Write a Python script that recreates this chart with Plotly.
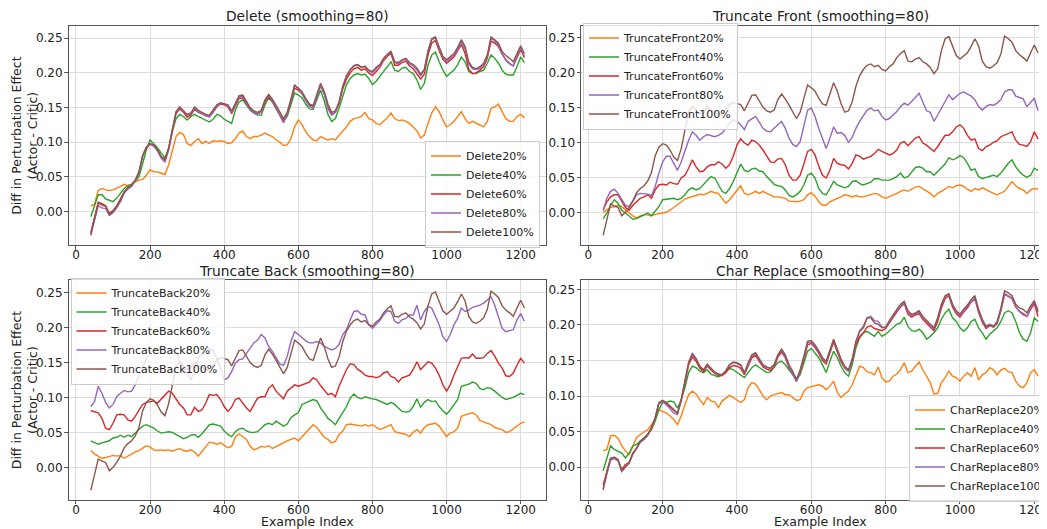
import plotly.graph_objects as go

W, H = 1047, 529
PAGE_OFFSET = 8  # the page body margin that surrounds the figure

# Example index (x positions of the smoothed curves)
EXAMPLE_INDEX = list(range(40, 1211, 10))

PERCENTS = ["20%", "40%", "60%", "80%", "100%"]
COLORS = ["#ff7f0e", "#2ca02c", "#d62728", "#9467bd", "#8c564b"]

# ---- Delete ----
DELETE_20 = [0.008, 0.010, 0.030, 0.033, 0.031, 0.030, 0.031, 0.033, 0.036, 0.039,
             0.037, 0.039, 0.043, 0.045, 0.046, 0.052, 0.060, 0.057, 0.057, 0.055,
             0.053, 0.067, 0.089, 0.108, 0.114, 0.111, 0.098, 0.095, 0.101, 0.105,
             0.098, 0.101, 0.098, 0.102, 0.101, 0.102, 0.101, 0.098, 0.099, 0.105,
             0.113, 0.116, 0.108, 0.105, 0.108, 0.108, 0.110, 0.113, 0.110, 0.108,
             0.103, 0.100, 0.095, 0.096, 0.105, 0.122, 0.132, 0.125, 0.115, 0.108,
             0.103, 0.102, 0.108, 0.105, 0.103, 0.105, 0.103, 0.110, 0.116, 0.122,
             0.130, 0.134, 0.135, 0.137, 0.143, 0.134, 0.132, 0.127, 0.125, 0.130,
             0.135, 0.142, 0.134, 0.131, 0.132, 0.130, 0.127, 0.122, 0.116, 0.106,
             0.110, 0.127, 0.142, 0.151, 0.144, 0.132, 0.122, 0.125, 0.130, 0.137,
             0.144, 0.134, 0.127, 0.130, 0.127, 0.125, 0.122, 0.130, 0.149, 0.151,
             0.155, 0.144, 0.134, 0.130, 0.130, 0.137, 0.140, 0.135]
DELETE_40 = [-0.008, 0.009, 0.024, 0.024, 0.018, 0.016, 0.014, 0.019, 0.026, 0.033,
             0.037, 0.039, 0.043, 0.050, 0.069, 0.089, 0.103, 0.098, 0.092, 0.084,
             0.077, 0.091, 0.115, 0.134, 0.140, 0.137, 0.132, 0.137, 0.140, 0.137,
             0.134, 0.132, 0.129, 0.133, 0.140, 0.138, 0.133, 0.130, 0.127, 0.146,
             0.158, 0.161, 0.154, 0.146, 0.142, 0.139, 0.139, 0.154, 0.164, 0.158,
             0.148, 0.139, 0.131, 0.137, 0.154, 0.171, 0.168, 0.164, 0.155, 0.148,
             0.147, 0.160, 0.175, 0.159, 0.140, 0.130, 0.134, 0.149, 0.168, 0.183,
             0.192, 0.197, 0.199, 0.197, 0.198, 0.192, 0.183, 0.188, 0.195, 0.202,
             0.209, 0.216, 0.204, 0.202, 0.207, 0.208, 0.202, 0.199, 0.190, 0.176,
             0.185, 0.211, 0.226, 0.230, 0.216, 0.204, 0.195, 0.199, 0.204, 0.212,
             0.223, 0.216, 0.202, 0.199, 0.199, 0.202, 0.204, 0.214, 0.226, 0.221,
             0.214, 0.204, 0.198, 0.197, 0.197, 0.209, 0.223, 0.215]
DELETE_60 = [-0.031, -0.009, 0.013, 0.011, 0.008, -0.003, 0.001, 0.008, 0.017, 0.028,
             0.034, 0.038, 0.045, 0.057, 0.080, 0.092, 0.097, 0.095, 0.088, 0.078,
             0.075, 0.090, 0.118, 0.141, 0.148, 0.143, 0.136, 0.139, 0.148, 0.143,
             0.141, 0.138, 0.137, 0.143, 0.151, 0.155, 0.154, 0.151, 0.141, 0.153,
             0.163, 0.164, 0.155, 0.148, 0.143, 0.141, 0.144, 0.158, 0.166, 0.159,
             0.149, 0.139, 0.129, 0.140, 0.158, 0.178, 0.175, 0.170, 0.161, 0.154,
             0.151, 0.167, 0.181, 0.170, 0.151, 0.140, 0.143, 0.156, 0.177, 0.191,
             0.200, 0.206, 0.208, 0.204, 0.206, 0.200, 0.196, 0.202, 0.208, 0.218,
             0.224, 0.228, 0.211, 0.211, 0.215, 0.217, 0.210, 0.206, 0.199, 0.191,
             0.198, 0.226, 0.243, 0.247, 0.232, 0.220, 0.214, 0.219, 0.223, 0.232,
             0.241, 0.228, 0.205, 0.199, 0.200, 0.204, 0.209, 0.221, 0.246, 0.243,
             0.238, 0.227, 0.219, 0.214, 0.210, 0.222, 0.234, 0.222]
DELETE_80 = [-0.035, -0.012, 0.008, 0.005, 0.004, -0.006, -0.002, 0.005, 0.014, 0.026,
             0.032, 0.036, 0.044, 0.056, 0.080, 0.092, 0.097, 0.094, 0.087, 0.077,
             0.071, 0.088, 0.118, 0.143, 0.150, 0.145, 0.139, 0.141, 0.149, 0.144,
             0.141, 0.138, 0.136, 0.144, 0.152, 0.156, 0.155, 0.152, 0.142, 0.154,
             0.165, 0.167, 0.156, 0.148, 0.142, 0.140, 0.144, 0.160, 0.168, 0.160,
             0.150, 0.138, 0.128, 0.141, 0.160, 0.183, 0.177, 0.170, 0.160, 0.152,
             0.149, 0.165, 0.182, 0.169, 0.148, 0.139, 0.143, 0.158, 0.181, 0.196,
             0.205, 0.211, 0.212, 0.208, 0.209, 0.203, 0.200, 0.206, 0.211, 0.220,
             0.226, 0.230, 0.215, 0.213, 0.218, 0.220, 0.213, 0.210, 0.204, 0.196,
             0.204, 0.232, 0.250, 0.252, 0.235, 0.222, 0.216, 0.221, 0.226, 0.234,
             0.244, 0.234, 0.213, 0.206, 0.205, 0.207, 0.212, 0.224, 0.250, 0.246,
             0.240, 0.228, 0.218, 0.213, 0.210, 0.224, 0.236, 0.224]
# 100% (everything removed) - identical for Delete / Truncate Front / Truncate Back
FULL_100 = [-0.033, -0.010, 0.012, 0.009, 0.007, -0.005, 0.000, 0.007, 0.016, 0.028,
            0.034, 0.038, 0.045, 0.057, 0.081, 0.093, 0.098, 0.096, 0.089, 0.079,
            0.074, 0.091, 0.120, 0.144, 0.151, 0.146, 0.140, 0.142, 0.151, 0.146,
            0.143, 0.140, 0.139, 0.146, 0.154, 0.157, 0.156, 0.154, 0.145, 0.156,
            0.167, 0.168, 0.158, 0.150, 0.145, 0.143, 0.146, 0.161, 0.169, 0.162,
            0.153, 0.143, 0.134, 0.143, 0.161, 0.182, 0.178, 0.173, 0.163, 0.155,
            0.153, 0.170, 0.185, 0.173, 0.155, 0.143, 0.145, 0.158, 0.180, 0.195,
            0.204, 0.210, 0.212, 0.208, 0.210, 0.204, 0.202, 0.208, 0.212, 0.221,
            0.227, 0.231, 0.216, 0.215, 0.219, 0.221, 0.215, 0.212, 0.207, 0.198,
            0.205, 0.231, 0.248, 0.251, 0.236, 0.224, 0.219, 0.224, 0.228, 0.237,
            0.248, 0.238, 0.216, 0.208, 0.206, 0.209, 0.214, 0.226, 0.252, 0.248,
            0.243, 0.231, 0.225, 0.221, 0.216, 0.228, 0.239, 0.228]

# ---- Truncate Front ----
TRUNC_FRONT_20 = [0.000, 0.003, 0.007, 0.008, 0.010, 0.008, 0.003, -0.001, -0.005, -0.008,
                  -0.005, -0.003, -0.004, -0.005, -0.003, -0.002, -0.002, 0.000, 0.003, 0.007,
                  0.010, 0.015, 0.019, 0.021, 0.022, 0.024, 0.026, 0.025, 0.027, 0.030,
                  0.028, 0.027, 0.020, 0.013, 0.018, 0.025, 0.032, 0.038, 0.027, 0.025,
                  0.027, 0.030, 0.027, 0.030, 0.027, 0.024, 0.022, 0.022, 0.021, 0.020,
                  0.016, 0.015, 0.015, 0.016, 0.018, 0.025, 0.028, 0.023, 0.015, 0.010,
                  0.010, 0.015, 0.018, 0.020, 0.022, 0.025, 0.024, 0.022, 0.024, 0.022,
                  0.022, 0.024, 0.026, 0.027, 0.026, 0.022, 0.020, 0.022, 0.025, 0.027,
                  0.030, 0.032, 0.030, 0.033, 0.036, 0.037, 0.034, 0.030, 0.027, 0.022,
                  0.027, 0.030, 0.033, 0.037, 0.035, 0.038, 0.039, 0.037, 0.033, 0.030,
                  0.034, 0.032, 0.035, 0.032, 0.030, 0.027, 0.025, 0.027, 0.030, 0.037,
                  0.044, 0.038, 0.034, 0.032, 0.027, 0.032, 0.034, 0.033]
TRUNC_FRONT_40 = [-0.009, -0.001, 0.010, 0.018, 0.013, 0.003, -0.001, -0.006, -0.010, -0.009,
                  -0.006, -0.003, -0.001, -0.005, 0.001, 0.008, 0.018, 0.019, 0.019, 0.020,
                  0.018, 0.020, 0.025, 0.032, 0.035, 0.032, 0.034, 0.040, 0.046, 0.051,
                  0.049, 0.039, 0.030, 0.027, 0.034, 0.044, 0.058, 0.069, 0.060, 0.058,
                  0.062, 0.063, 0.059, 0.058, 0.051, 0.045, 0.040, 0.038, 0.037, 0.032,
                  0.024, 0.022, 0.025, 0.030, 0.039, 0.053, 0.056, 0.049, 0.034, 0.027,
                  0.025, 0.034, 0.044, 0.039, 0.037, 0.035, 0.037, 0.044, 0.045, 0.041,
                  0.039, 0.041, 0.043, 0.048, 0.048, 0.046, 0.046, 0.046, 0.048, 0.051,
                  0.056, 0.049, 0.051, 0.058, 0.064, 0.065, 0.063, 0.058, 0.058, 0.053,
                  0.058, 0.063, 0.069, 0.078, 0.075, 0.077, 0.081, 0.078, 0.070, 0.060,
                  0.062, 0.051, 0.048, 0.050, 0.051, 0.053, 0.051, 0.056, 0.063, 0.070,
                  0.075, 0.065, 0.058, 0.053, 0.050, 0.053, 0.063, 0.060]
TRUNC_FRONT_60 = [0.003, 0.015, 0.022, 0.025, 0.025, 0.015, 0.007, 0.003, 0.010, 0.015,
                  0.020, 0.022, 0.025, 0.020, 0.032, 0.039, 0.040, 0.039, 0.043, 0.041,
                  0.040, 0.049, 0.053, 0.063, 0.075, 0.065, 0.058, 0.059, 0.065, 0.068,
                  0.068, 0.072, 0.069, 0.063, 0.068, 0.080, 0.096, 0.105, 0.099, 0.096,
                  0.103, 0.101, 0.096, 0.089, 0.080, 0.072, 0.071, 0.076, 0.077, 0.068,
                  0.053, 0.046, 0.046, 0.053, 0.069, 0.087, 0.090, 0.082, 0.066, 0.053,
                  0.049, 0.060, 0.077, 0.070, 0.068, 0.067, 0.062, 0.070, 0.082, 0.080,
                  0.076, 0.078, 0.080, 0.084, 0.090, 0.087, 0.084, 0.082, 0.084, 0.089,
                  0.099, 0.101, 0.095, 0.101, 0.106, 0.108, 0.099, 0.096, 0.092, 0.087,
                  0.094, 0.103, 0.110, 0.110, 0.115, 0.122, 0.125, 0.120, 0.110, 0.103,
                  0.105, 0.091, 0.088, 0.094, 0.096, 0.100, 0.102, 0.108, 0.110, 0.113,
                  0.115, 0.103, 0.097, 0.096, 0.094, 0.101, 0.115, 0.105]
TRUNC_FRONT_80 = [0.003, 0.020, 0.030, 0.033, 0.027, 0.019, 0.010, 0.008, 0.016, 0.025,
                  0.027, 0.027, 0.026, 0.024, 0.037, 0.056, 0.072, 0.080, 0.080, 0.070,
                  0.060, 0.072, 0.089, 0.103, 0.115, 0.110, 0.103, 0.108, 0.111, 0.110,
                  0.108, 0.110, 0.113, 0.120, 0.127, 0.132, 0.130, 0.125, 0.118, 0.130,
                  0.134, 0.137, 0.129, 0.120, 0.116, 0.115, 0.120, 0.125, 0.130, 0.120,
                  0.106, 0.097, 0.094, 0.101, 0.125, 0.146, 0.149, 0.137, 0.120, 0.106,
                  0.091, 0.106, 0.122, 0.113, 0.114, 0.110, 0.100, 0.107, 0.120, 0.130,
                  0.139, 0.146, 0.149, 0.145, 0.146, 0.137, 0.132, 0.134, 0.139, 0.144,
                  0.151, 0.156, 0.153, 0.158, 0.164, 0.170, 0.156, 0.145, 0.143, 0.130,
                  0.139, 0.149, 0.158, 0.168, 0.161, 0.166, 0.170, 0.172, 0.169, 0.166,
                  0.161, 0.151, 0.146, 0.151, 0.154, 0.153, 0.156, 0.161, 0.172, 0.175,
                  0.175, 0.166, 0.164, 0.162, 0.151, 0.157, 0.163, 0.145]

# ---- Truncate Back ----
TRUNC_BACK_20 = [0.024, 0.019, 0.016, 0.013, 0.014, 0.016, 0.017, 0.016, 0.017, 0.013,
                 0.016, 0.020, 0.022, 0.024, 0.028, 0.031, 0.029, 0.025, 0.024, 0.025,
                 0.024, 0.025, 0.023, 0.025, 0.027, 0.024, 0.023, 0.025, 0.022, 0.016,
                 0.023, 0.030, 0.036, 0.035, 0.033, 0.035, 0.032, 0.028, 0.030, 0.043,
                 0.048, 0.044, 0.040, 0.030, 0.025, 0.027, 0.030, 0.029, 0.031, 0.027,
                 0.030, 0.032, 0.035, 0.038, 0.040, 0.042, 0.038, 0.044, 0.050, 0.056,
                 0.061, 0.057, 0.050, 0.043, 0.040, 0.035, 0.037, 0.047, 0.052, 0.061,
                 0.062, 0.061, 0.060, 0.059, 0.061, 0.059, 0.061, 0.057, 0.054, 0.056,
                 0.059, 0.061, 0.051, 0.050, 0.049, 0.047, 0.044, 0.050, 0.054, 0.049,
                 0.057, 0.061, 0.062, 0.063, 0.059, 0.051, 0.044, 0.049, 0.051, 0.056,
                 0.073, 0.075, 0.076, 0.078, 0.075, 0.067, 0.065, 0.063, 0.061, 0.057,
                 0.056, 0.054, 0.050, 0.051, 0.055, 0.059, 0.063, 0.065]
TRUNC_BACK_40 = [0.038, 0.036, 0.033, 0.035, 0.037, 0.038, 0.042, 0.043, 0.046, 0.043,
                 0.046, 0.044, 0.049, 0.054, 0.059, 0.061, 0.059, 0.056, 0.052, 0.049,
                 0.050, 0.051, 0.050, 0.047, 0.043, 0.041, 0.043, 0.046, 0.047, 0.043,
                 0.048, 0.054, 0.061, 0.062, 0.061, 0.059, 0.052, 0.047, 0.044, 0.051,
                 0.055, 0.056, 0.052, 0.050, 0.050, 0.051, 0.056, 0.061, 0.063, 0.061,
                 0.066, 0.063, 0.059, 0.062, 0.071, 0.075, 0.078, 0.090, 0.092, 0.094,
                 0.097, 0.095, 0.085, 0.078, 0.070, 0.066, 0.061, 0.070, 0.078, 0.087,
                 0.099, 0.105, 0.100, 0.098, 0.101, 0.099, 0.098, 0.097, 0.095, 0.093,
                 0.090, 0.093, 0.090, 0.085, 0.080, 0.079, 0.080, 0.087, 0.098, 0.086,
                 0.093, 0.097, 0.094, 0.095, 0.087, 0.081, 0.076, 0.082, 0.090, 0.097,
                 0.116, 0.117, 0.119, 0.122, 0.120, 0.113, 0.111, 0.114, 0.113, 0.109,
                 0.104, 0.100, 0.097, 0.098, 0.100, 0.103, 0.106, 0.104]
TRUNC_BACK_60 = [0.081, 0.080, 0.078, 0.070, 0.056, 0.054, 0.063, 0.075, 0.076, 0.075,
                 0.068, 0.066, 0.073, 0.082, 0.090, 0.093, 0.094, 0.095, 0.092, 0.098,
                 0.104, 0.109, 0.106, 0.098, 0.090, 0.085, 0.075, 0.075, 0.086, 0.080,
                 0.082, 0.092, 0.104, 0.103, 0.104, 0.097, 0.087, 0.080, 0.086, 0.097,
                 0.099, 0.092, 0.085, 0.080, 0.090, 0.099, 0.101, 0.101, 0.113, 0.118,
                 0.109, 0.104, 0.098, 0.109, 0.114, 0.118, 0.116, 0.118, 0.119, 0.122,
                 0.128, 0.125, 0.117, 0.111, 0.104, 0.106, 0.101, 0.116, 0.128, 0.140,
                 0.148, 0.147, 0.140, 0.137, 0.132, 0.130, 0.130, 0.128, 0.130, 0.135,
                 0.137, 0.130, 0.128, 0.122, 0.128, 0.130, 0.132, 0.140, 0.151, 0.140,
                 0.146, 0.151, 0.149, 0.142, 0.132, 0.118, 0.109, 0.118, 0.132, 0.144,
                 0.156, 0.157, 0.156, 0.162, 0.156, 0.156, 0.157, 0.163, 0.167, 0.159,
                 0.149, 0.142, 0.131, 0.130, 0.135, 0.146, 0.156, 0.149]
TRUNC_BACK_80 = [0.087, 0.094, 0.116, 0.106, 0.093, 0.085, 0.090, 0.101, 0.106, 0.110,
                 0.108, 0.109, 0.118, 0.130, 0.142, 0.156, 0.163, 0.168, 0.168, 0.170,
                 0.168, 0.170, 0.168, 0.166, 0.151, 0.142, 0.132, 0.125, 0.140, 0.156,
                 0.163, 0.170, 0.170, 0.167, 0.156, 0.142, 0.125, 0.128, 0.137, 0.149,
                 0.154, 0.155, 0.163, 0.170, 0.178, 0.182, 0.190, 0.185, 0.173, 0.166,
                 0.156, 0.148, 0.146, 0.159, 0.180, 0.194, 0.190, 0.185, 0.181, 0.178,
                 0.178, 0.180, 0.178, 0.173, 0.170, 0.168, 0.170, 0.176, 0.190, 0.197,
                 0.211, 0.223, 0.224, 0.219, 0.218, 0.204, 0.199, 0.204, 0.210, 0.218,
                 0.224, 0.223, 0.209, 0.206, 0.211, 0.213, 0.218, 0.218, 0.232, 0.211,
                 0.223, 0.230, 0.228, 0.216, 0.204, 0.187, 0.180, 0.190, 0.204, 0.213,
                 0.228, 0.223, 0.225, 0.229, 0.230, 0.232, 0.235, 0.240, 0.244, 0.232,
                 0.216, 0.199, 0.194, 0.195, 0.197, 0.211, 0.220, 0.209]

# ---- Char Replace ----
CHAR_REPLACE_20 = [0.023, 0.025, 0.044, 0.045, 0.041, 0.030, 0.023, 0.018, 0.030, 0.042,
                   0.046, 0.050, 0.053, 0.060, 0.067, 0.081, 0.079, 0.076, 0.072, 0.067,
                   0.060, 0.072, 0.088, 0.102, 0.107, 0.103, 0.095, 0.088, 0.098, 0.093,
                   0.092, 0.084, 0.093, 0.097, 0.101, 0.098, 0.095, 0.091, 0.095, 0.112,
                   0.119, 0.117, 0.109, 0.100, 0.095, 0.100, 0.102, 0.103, 0.105, 0.102,
                   0.102, 0.098, 0.094, 0.095, 0.107, 0.112, 0.113, 0.114, 0.116, 0.114,
                   0.109, 0.114, 0.121, 0.105, 0.098, 0.103, 0.107, 0.116, 0.130, 0.142,
                   0.140, 0.134, 0.133, 0.130, 0.141, 0.126, 0.120, 0.121, 0.128, 0.131,
                   0.137, 0.147, 0.133, 0.135, 0.142, 0.148, 0.137, 0.128, 0.119, 0.103,
                   0.104, 0.119, 0.126, 0.135, 0.128, 0.126, 0.121, 0.128, 0.133, 0.128,
                   0.140, 0.123, 0.130, 0.133, 0.140, 0.137, 0.130, 0.137, 0.139, 0.134,
                   0.133, 0.121, 0.114, 0.112, 0.119, 0.133, 0.137, 0.128]
CHAR_REPLACE_40 = [-0.005, 0.013, 0.030, 0.025, 0.023, 0.020, 0.013, 0.020, 0.030, 0.032,
                   0.037, 0.041, 0.046, 0.053, 0.065, 0.081, 0.091, 0.091, 0.093, 0.092,
                   0.083, 0.095, 0.112, 0.133, 0.142, 0.140, 0.135, 0.133, 0.137, 0.131,
                   0.129, 0.127, 0.130, 0.135, 0.139, 0.137, 0.133, 0.130, 0.126, 0.133,
                   0.140, 0.144, 0.140, 0.136, 0.133, 0.134, 0.140, 0.147, 0.149, 0.144,
                   0.137, 0.130, 0.123, 0.130, 0.147, 0.163, 0.167, 0.161, 0.154, 0.144,
                   0.133, 0.149, 0.163, 0.154, 0.142, 0.133, 0.128, 0.144, 0.168, 0.182,
                   0.189, 0.191, 0.187, 0.184, 0.191, 0.184, 0.187, 0.192, 0.196, 0.201,
                   0.203, 0.211, 0.198, 0.192, 0.191, 0.194, 0.189, 0.180, 0.184, 0.189,
                   0.196, 0.208, 0.217, 0.222, 0.210, 0.205, 0.196, 0.191, 0.196, 0.205,
                   0.208, 0.196, 0.189, 0.180, 0.187, 0.191, 0.196, 0.205, 0.217, 0.220,
                   0.217, 0.205, 0.189, 0.180, 0.177, 0.189, 0.210, 0.205]
CHAR_REPLACE_60 = [-0.025, -0.005, 0.012, 0.014, 0.010, -0.003, 0.004, 0.007, 0.020, 0.027,
                   0.036, 0.040, 0.046, 0.056, 0.070, 0.090, 0.092, 0.089, 0.085, 0.080,
                   0.076, 0.094, 0.120, 0.144, 0.155, 0.149, 0.139, 0.134, 0.142, 0.137,
                   0.132, 0.129, 0.129, 0.133, 0.140, 0.143, 0.142, 0.139, 0.130, 0.142,
                   0.154, 0.157, 0.149, 0.141, 0.138, 0.136, 0.141, 0.155, 0.162, 0.154,
                   0.140, 0.132, 0.122, 0.134, 0.152, 0.172, 0.174, 0.168, 0.160, 0.150,
                   0.145, 0.162, 0.176, 0.162, 0.148, 0.139, 0.135, 0.150, 0.172, 0.184,
                   0.189, 0.197, 0.199, 0.195, 0.193, 0.192, 0.195, 0.203, 0.211, 0.218,
                   0.225, 0.230, 0.215, 0.211, 0.214, 0.216, 0.208, 0.202, 0.197, 0.192,
                   0.205, 0.224, 0.237, 0.241, 0.225, 0.216, 0.211, 0.218, 0.224, 0.232,
                   0.237, 0.218, 0.204, 0.195, 0.199, 0.197, 0.202, 0.220, 0.243, 0.240,
                   0.237, 0.225, 0.219, 0.216, 0.212, 0.222, 0.230, 0.212]
CHAR_REPLACE_80 = [-0.030, -0.008, 0.010, 0.012, 0.009, -0.006, 0.000, 0.006, 0.018, 0.026,
                   0.035, 0.039, 0.045, 0.055, 0.069, 0.090, 0.092, 0.088, 0.082, 0.076,
                   0.074, 0.094, 0.121, 0.148, 0.160, 0.153, 0.142, 0.136, 0.143, 0.139,
                   0.133, 0.130, 0.130, 0.136, 0.144, 0.147, 0.146, 0.143, 0.132, 0.145,
                   0.156, 0.160, 0.151, 0.143, 0.140, 0.139, 0.144, 0.157, 0.164, 0.156,
                   0.142, 0.132, 0.120, 0.135, 0.155, 0.175, 0.176, 0.170, 0.162, 0.152,
                   0.148, 0.163, 0.179, 0.165, 0.150, 0.140, 0.135, 0.151, 0.176, 0.192,
                   0.198, 0.210, 0.212, 0.206, 0.205, 0.197, 0.196, 0.204, 0.213, 0.220,
                   0.226, 0.231, 0.218, 0.213, 0.216, 0.218, 0.211, 0.205, 0.199, 0.194,
                   0.209, 0.228, 0.240, 0.243, 0.228, 0.218, 0.213, 0.220, 0.226, 0.233,
                   0.238, 0.220, 0.206, 0.197, 0.200, 0.197, 0.203, 0.221, 0.244, 0.241,
                   0.238, 0.226, 0.219, 0.214, 0.212, 0.224, 0.232, 0.218]
CHAR_REPLACE_100 = [-0.032, -0.006, 0.013, 0.014, 0.011, -0.005, 0.001, 0.006, 0.020, 0.027,
                    0.037, 0.040, 0.046, 0.055, 0.069, 0.091, 0.094, 0.091, 0.086, 0.081,
                    0.076, 0.095, 0.121, 0.147, 0.159, 0.152, 0.142, 0.137, 0.145, 0.140,
                    0.134, 0.131, 0.130, 0.135, 0.144, 0.148, 0.147, 0.144, 0.133, 0.147,
                    0.158, 0.161, 0.152, 0.144, 0.141, 0.139, 0.144, 0.158, 0.166, 0.158,
                    0.144, 0.135, 0.123, 0.137, 0.156, 0.177, 0.178, 0.172, 0.164, 0.154,
                    0.149, 0.166, 0.180, 0.166, 0.152, 0.142, 0.137, 0.152, 0.177, 0.191,
                    0.196, 0.210, 0.210, 0.203, 0.201, 0.196, 0.197, 0.206, 0.215, 0.222,
                    0.229, 0.233, 0.220, 0.215, 0.217, 0.220, 0.212, 0.206, 0.201, 0.196,
                    0.210, 0.229, 0.241, 0.244, 0.229, 0.220, 0.215, 0.222, 0.228, 0.236,
                    0.241, 0.222, 0.208, 0.198, 0.201, 0.198, 0.205, 0.224, 0.248, 0.245,
                    0.241, 0.229, 0.224, 0.222, 0.217, 0.227, 0.234, 0.220]

X_TICKS = [0, 200, 400, 600, 800, 1000, 1200]
Y_TICKS = [0.00, 0.05, 0.10, 0.15, 0.20, 0.25]
Y_LABEL = "Diff in Perturbation Effect<br>(Actor - Critic)"
X_LABEL = "Example Index"

PANELS = [
    ("Delete (smoothing=80)", "Delete",
     [DELETE_20, DELETE_40, DELETE_60, DELETE_80, FULL_100]),
    ("Truncate Front (smoothing=80)", "TruncateFront",
     [TRUNC_FRONT_20, TRUNC_FRONT_40, TRUNC_FRONT_60, TRUNC_FRONT_80, FULL_100]),
    ("Truncate Back (smoothing=80)", "TruncateBack",
     [TRUNC_BACK_20, TRUNC_BACK_40, TRUNC_BACK_60, TRUNC_BACK_80, FULL_100]),
    ("Char Replace (smoothing=80)", "CharReplace",
     [CHAR_REPLACE_20, CHAR_REPLACE_40, CHAR_REPLACE_60, CHAR_REPLACE_80, CHAR_REPLACE_100]),
]

# ---- layout geometry (page pixels, converted to paper fractions) ----
def fx(px):
    return (px - PAGE_OFFSET) / W

def fy(py):
    return 1 - (py - PAGE_OFFSET) / H

# left, right, top, bottom (page px), xrange, yrange
GEOM = [
    (68.5, 545.5, 25.7, 245.0, [-20.2, 1267], [-0.0487, 0.2682]),
    (581.0, 1055.0, 25.7, 245.0, [-19.6, 1255.6], [-0.0467, 0.2666]),
    (68.5, 545.5, 279.8, 499.7, [-20.2, 1267], [-0.0463, 0.2683]),
    (581.0, 1055.0, 280.0, 499.7, [-19.6, 1255.6], [-0.0456, 0.2632]),
]
LEGEND_POS = [
    dict(x=fx(540), xanchor="right", y=fy(194), yanchor="middle"),
    dict(x=fx(583), xanchor="left", y=fy(76), yanchor="middle"),
    dict(x=fx(70.5), xanchor="left", y=fy(331), yanchor="middle"),
    dict(x=fx(909), xanchor="left", y=fy(448), yanchor="middle"),
]
TITLE_POS = [(307, 15.5), (820, 15.5), (307, 270.5), (820, 270.5)]

FONT = "DejaVu Sans"
AXCOL = "#555555"
TXT = "#222222"

fig = go.Figure()
layout = dict(
    width=W, height=H,
    margin=dict(l=0, r=0, t=0, b=0, autoexpand=False),
    paper_bgcolor="white", plot_bgcolor="white",
    font=dict(family=FONT, size=12, color=TXT),
    showlegend=True,
    annotations=[],
)

for i, (title, prefix, series) in enumerate(PANELS):
    sfx = "" if i == 0 else str(i + 1)
    leg = "legend" if i == 0 else "legend%d" % (i + 1)
    for pct, col, ys in zip(PERCENTS, COLORS, series):
        fig.add_trace(go.Scatter(
            x=EXAMPLE_INDEX, y=ys, mode="lines", name=prefix + pct,
            line=dict(color=col, width=1.4),
            xaxis="x" + sfx, yaxis="y" + sfx, legend=leg,
        ))
    l, r, t, b, xr, yr = GEOM[i]
    right_col = (i % 2 == 1)
    layout["xaxis" + sfx] = dict(
        domain=[max(0, fx(l)), min(1, fx(r))], range=xr, anchor="y" + sfx,
        tickvals=X_TICKS, ticks="outside", ticklen=3.5, tickwidth=1, tickcolor=AXCOL,
        ticklabelstandoff=-5,
        showline=True, linecolor=AXCOL, linewidth=1, mirror=True,
        showgrid=True, gridcolor="#dcdcdc", gridwidth=1, zeroline=False,
        tickfont=dict(family=FONT, size=12, color=TXT),
    )
    layout["yaxis" + sfx] = dict(
        domain=[fy(b), fy(t)], range=yr, anchor="x" + sfx,
        tickvals=Y_TICKS, tickformat=".2f", ticks="outside", ticklen=3.5, tickwidth=1,
        tickcolor=AXCOL, ticklabelstandoff=-1,
        showline=True, linecolor=AXCOL, linewidth=1, mirror=(not right_col),
        showgrid=True, gridcolor="#dcdcdc", gridwidth=1, zeroline=False,
        tickfont=dict(family=FONT, size=12, color=TXT),
    )
    layout[leg] = dict(
        **LEGEND_POS[i], xref="paper", yref="paper",
        bgcolor="rgba(255,255,255,0.8)", bordercolor="#cccccc", borderwidth=1,
        font=dict(family=FONT, size=11, color=TXT),
        tracegroupgap=0, itemwidth=30,
    )
    tx, ty = TITLE_POS[i]
    layout["annotations"].append(dict(
        text=title, x=fx(tx), y=fy(ty), xref="paper", yref="paper",
        xanchor="center", yanchor="middle", showarrow=False,
        font=dict(family=FONT, size=13.8, color=TXT),
    ))
    if not right_col:
        layout["annotations"].append(dict(
            text=Y_LABEL, x=fx(24.5), y=fy((t + b) / 2), xref="paper", yref="paper",
            xanchor="center", yanchor="middle", textangle=-90, showarrow=False,
            font=dict(family=FONT, size=12.5, color=TXT),
        ))
    if i >= 2:
        layout["annotations"].append(dict(
            text=X_LABEL, x=fx(tx), y=fy(521), xref="paper", yref="paper",
            xanchor="center", yanchor="middle", showarrow=False,
            font=dict(family=FONT, size=12.5, color=TXT),
        ))

fig.update_layout(**layout)
fig.write_html("out.html", config={"displayModeBar": False})
